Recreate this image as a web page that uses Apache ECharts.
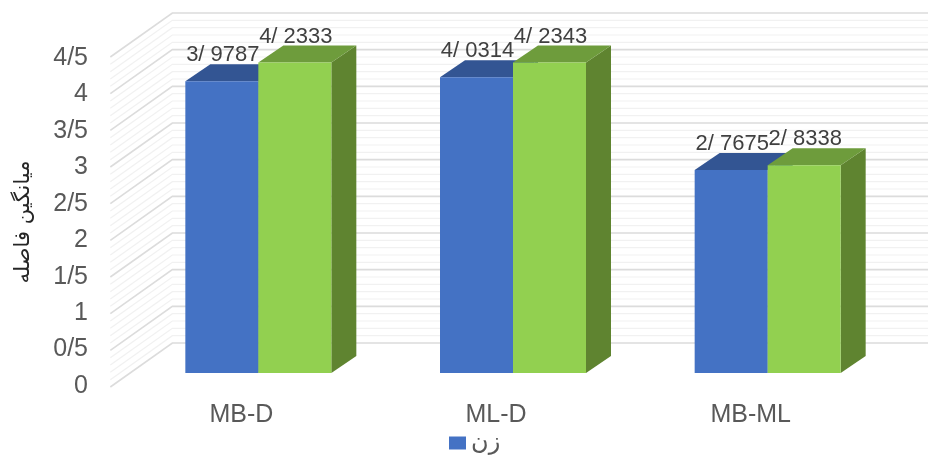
<!DOCTYPE html>
<html><head><meta charset="utf-8">
<style>html,body{margin:0;padding:0;background:#fff}#c{width:928px;height:455px}</style>
<script src="https://cdn.jsdelivr.net/npm/echarts@6/dist/echarts.min.js"></script>
</head><body><div id="c"></div>
<script>
const categories = ['MB-D','ML-D','MB-ML'];
const seriesA = [3.9787,4.0314,2.7675];
const seriesB = [4.2333,4.2343,2.8338];
const labelsA = ['3/ 9787','4/ 0314','2/ 7675'];
const labelsB = ['4/ 2333','4/ 2343','2/ 8338'];
const tickLabels = ['0','0/5','1','1/5','2','2/5','3','3/5','4','4/5'];
const majorLevels = [0,0.5,1,1.5,2,2.5,3,3.5,4,4.5];
const minorLevels = [0.1,0.2,0.3,0.4,0.6,0.7,0.8,0.9,1.1,1.2,1.3,1.4,1.6,1.7,1.8,1.9,2.1,2.2,2.3,2.4,2.6,2.7,2.8,2.9,3.1,3.2,3.3,3.4,3.6,3.7,3.8,3.9,4.1,4.2,4.3,4.4];
const yTitle = 'میانگین فاصله';
const legendName = 'زن';
const legendName2 = 'مرد';

const BAR_W = 73, DX = 25, DY = 17;
const textColor = '#595959', font = '"Liberation Sans", Arial, sans-serif';

function wall(color, width){
  return function(params, api){
    const p = api.coord([0, api.value(1)]);
    const pts = [[p[0]-148, p[1]+14],[p[0]-86, p[1]-30],[api.getWidth(), p[1]-30]];
    return {type:'polyline', shape:{points:pts}, style:{fill:null, stroke:color, lineWidth:width}, silent:true};
  };
}
function bar(side, front, top, right, labels){
  return function(params, api){
    const idx = api.value(0);
    const p = api.coord([idx, api.value(1)]);
    const b = api.coord([idx, 0]);
    const x0 = side === 0 ? p[0]-BAR_W : p[0];
    const x1 = x0 + BAR_W, t = p[1], g = b[1];
    const poly = (pts, fill) => ({type:'polygon', shape:{points:pts}, style:{fill:fill}});
    return {type:'group', children:[
      poly([[x1,t],[x1+DX,t-DY],[x1+DX,g-DY],[x1,g]], right),
      poly([[x0,t],[x0+DX,t-DY],[x1+DX,t-DY],[x1,t]], top),
      poly([[x0,t],[x1,t],[x1,g],[x0,g]], front),
      {type:'text', z2:50, style:{text:labels[params.dataIndex], x:(x0+x1)/2+1, y:t-26, align:'center', verticalAlign:'middle', font:'22px '+font, fill:'#404040'}}
    ]};
  };
}
const chart = echarts.init(document.getElementById('c'), null, {renderer:'canvas'});
chart.setOption({
  animation:false,
  backgroundColor:'#fff',
  legend:{data:[legendName], left:449, top:431, padding:0, itemWidth:17, itemHeight:13, itemGap:6, icon:'rect',
    textStyle:{fontFamily:'"DejaVu Sans"', fontSize:24, color:textColor}},
  grid:[
    {left:131, right:33, top:43, bottom:82},
    {left:114, width:764, top:58, height:328}
  ],
  xAxis:[
    {type:'category', gridIndex:0, data:categories, show:false},
    {type:'category', gridIndex:1, data:categories, axisLine:{show:false}, axisTick:{show:false},
      axisLabel:{margin:17, fontSize:25, fontFamily:font, color:textColor}}
  ],
  yAxis:[
    {type:'value', gridIndex:0, min:0, max:4.5, interval:0.5, show:false},
    {type:'value', gridIndex:1, min:0, max:4.5, interval:0.5, axisLine:{show:false}, axisTick:{show:false}, splitLine:{show:false},
      axisLabel:{margin:26, fontSize:25, fontFamily:font, color:textColor, formatter:(v)=>tickLabels[Math.round(v*2)]},
      name:yTitle, nameLocation:'middle', nameRotate:90, nameGap:80,
      nameTextStyle:{fontFamily:'"DejaVu Sans"', fontSize:21, color:'#262626'}}
  ],
  series:[
    {type:'custom', name:'minor', silent:true, renderItem:wall('#f1f1f1',1.2), data:minorLevels.map(v=>[0,v]), encode:{x:0,y:1}},
    {type:'custom', name:'major', silent:true, renderItem:wall('#dcdcdc',1.6), data:majorLevels.map(v=>[0,v]), encode:{x:0,y:1}},
    {type:'custom', name:legendName, itemStyle:{color:'#4472C4'}, renderItem:bar(0,'#4472C4','#335593','#2F5597',labelsA), data:seriesA.map((v,i)=>[i,v]), encode:{x:0,y:1}},
    {type:'custom', name:legendName2, itemStyle:{color:'#92D050'}, renderItem:bar(1,'#92D050','#6E9C3C','#5F8430',labelsB), data:seriesB.map((v,i)=>[i,v]), encode:{x:0,y:1}}
  ]
});
</script></body></html>
